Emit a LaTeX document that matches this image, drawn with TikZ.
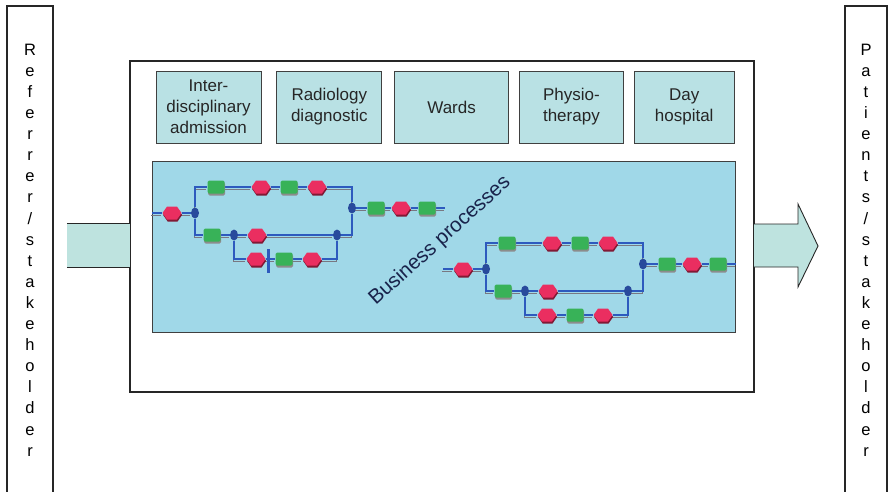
\documentclass[tikz,border=0pt]{standalone}
\usepackage{fontspec}
\setmainfont{Liberation Sans}
\usetikzlibrary{positioning, shapes.geometric, shapes.symbols, shadows, backgrounds}

\definecolor{deptfill}{RGB}{185,225,228}
\definecolor{areafill}{RGB}{160,216,232}
\definecolor{arrowfill}{RGB}{190,227,223}
\definecolor{actred}{RGB}{234,46,96}
\definecolor{actgreen}{RGB}{56,178,88}
\definecolor{gateblue}{RGB}{40,74,156}
\definecolor{flowblue}{RGB}{45,90,190}
\definecolor{flowgray}{RGB}{120,120,130}
\definecolor{labelnavy}{RGB}{25,35,75}

\begin{document}
\begin{tikzpicture}[
    x=1pt, y=-1pt,
    font=\fontsize{17}{21}\selectfont,
    node distance=11pt,
    stakeholder/.style={
        rectangle, draw=black!85, line width=1.2pt, minimum width=46pt,
        minimum height=488pt, align=center, inner sep=0pt,
        font=\fontsize{16.5}{21.1}\selectfont
    },
    frame/.style={
        rectangle, draw=black!85, line width=1.2pt,
        minimum width=624pt, minimum height=331pt
    },
    dept/.style={
        rectangle, draw=black!75, line width=0.8pt, fill=deptfill, text=black!85,
        minimum width=105pt, minimum height=72pt, align=center, inner sep=2pt
    },
    procarea/.style={
        rectangle, draw=black!75, line width=0.8pt, fill=areafill,
        minimum width=583pt, minimum height=171pt
    },
    hexact/.style={
        signal, signal to=east and west, signal pointer angle=110,
        fill=actred, minimum width=19pt, minimum height=13pt, inner sep=0pt,
        drop shadow={shadow xshift=0.6pt, shadow yshift=-2pt, fill=actred!55!black, opacity=1}
    },
    boxact/.style={
        rectangle, rounded corners=1.5pt, fill=actgreen,
        minimum width=17pt, minimum height=13pt, inner sep=0pt,
        drop shadow={shadow xshift=0.6pt, shadow yshift=-2pt, fill=black!45, opacity=1}
    },
    gate/.style={
        ellipse, fill=gateblue, minimum width=8pt, minimum height=11pt, inner sep=0pt
    },
    flow/.style={
        draw=flowblue, line width=1.1pt,
        preaction={draw=flowgray, line width=0.8pt, transform canvas={xshift=-1pt, yshift=-2pt}}
    },
    syncbar/.style={
        rectangle, fill=flowblue, minimum width=3pt, minimum height=24pt, inner sep=0pt
    },
    inflow/.style={
        rectangle, fill=arrowfill, minimum width=63pt, minimum height=43pt, inner sep=0pt
    },
    edge/.style={draw=black!85, line width=0.9pt},
    outflow/.style={fill=arrowfill, draw=black!85, line width=0.9pt},
    bpnet/.pic={
        \coordinate (-start) at (-43,0);
        \node[hexact] (-r0) at (-23,0) {};
        \node[gate] (-g1) at (0,0) {};
        % upper branch
        \node[boxact] (-gt1) at (21,-26) {};
        \node[hexact] (-rt1) at (66,-26) {};
        \node[boxact] (-gt2) at (94,-26) {};
        \node[hexact] (-rt2) at (122,-26) {};
        \node[gate] (-g2) at (157,-5) {};
        % tail
        \node[boxact] (-gt3) at (181,-5) {};
        \node[hexact] (-rt3) at (206,-5) {};
        \node[boxact] (-gt4) at (232,-5) {};
        \coordinate (-end) at (250,-5);
        % lower branch
        \node[boxact] (-gl1) at (17,22) {};
        \node[gate] (-g3) at (39,22) {};
        \node[hexact] (-rl1) at (62,22) {};
        \node[gate] (-g4) at (142,22) {};
        % bottom branch
        \node[hexact] (-rb1) at (61,46) {};
        \node[boxact] (-gb1) at (89,46) {};
        \node[hexact] (-rb2) at (117,46) {};
        % flows
        \begin{scope}[on background layer]
        \draw[flow] (-start) -- (-r0) -- (-g1);
        \draw[flow] (-g1) |- (-gt1) -- (-rt1) -- (-gt2) -- (-rt2) -| (-g2);
        \draw[flow] (-g1) |- (-gl1) -- (-g3) -- (-rl1) -- (-g4) -| (-g2);
        \draw[flow] (-g3) |- (-rb1) -- (-gb1) -- (-rb2) -| (-g4);
        \draw[flow] (-g2) -- (-gt3) -- (-rt3) -- (-gt4) -- (-end);
        \end{scope}
    }
]
\useasboundingbox (0,0) rectangle (888,492);

% ---------------- Stakeholders ----------------
\node[stakeholder] (referrer) at (30,250) {R\\e\\f\\e\\r\\r\\e\\r\\/\\s\\t\\a\\k\\e\\h\\o\\l\\d\\e\\r};
\node[stakeholder, minimum width=42pt] (patients) at (866,250) {P\\a\\t\\i\\e\\n\\t\\s\\/\\s\\t\\a\\k\\e\\h\\o\\l\\d\\e\\r};

% ---------------- Hospital ----------------
\node[frame] (hospital) at (442,226.5) {};

\node[dept] (admission) at (208.5,107) {Inter-\\disciplinary\\admission};
\node[dept, right=15pt of admission] (radiology) {Radiology\\diagnostic};
\node[dept, right=12pt of radiology, minimum width=114pt] (wards) {Wards};
\node[dept, right=10pt of wards, minimum width=104pt] (physio) {Physio-\\therapy};
\node[dept, right=10pt of physio, minimum width=100pt] (dayhosp) {Day\\hospital};

% ---------------- Business processes ----------------
\begin{scope}[on background layer]
\node[procarea] (bparea) at (443.5,246.5) {};
\end{scope}

\pic (L) at (195,213) {bpnet};
\pic (R) at (486,269) {bpnet};
\node[syncbar] (sync) at (268,261) {};

\node[rotate=42, font=\fontsize{20.5}{24}\selectfont, text=labelnavy] (bplabel) at (440,241) {Business processes};

% ---------------- Arrows ----------------
\node[inflow] (inarrow) at (98.5,245.5) {};
\draw[edge] (inarrow.north west) -- (inarrow.north east);
\draw[edge] (inarrow.south west) -- (inarrow.south east);

\draw[outflow] (754,224) -- (798,224) -- (798,204) -- (818,246) -- (798,287) -- (798,267) -- (754,267);

\end{tikzpicture}
\end{document}
